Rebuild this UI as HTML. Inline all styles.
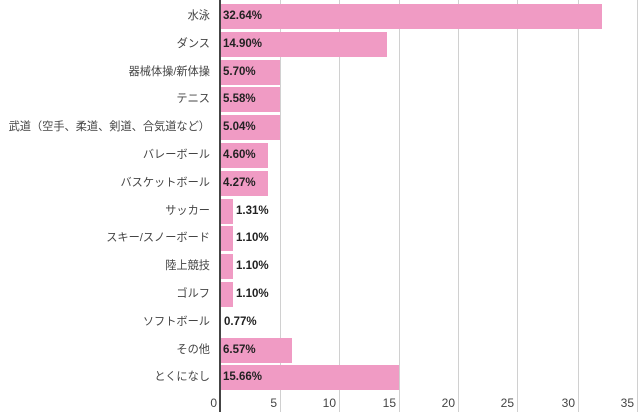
<!DOCTYPE html>
<html><head><meta charset="utf-8"><style>
body{margin:0;background:#fff;width:640px;height:415px;overflow:hidden;font-family:"Liberation Sans","Noto Sans CJK JP",sans-serif}
.g{position:absolute;top:0;height:412px;width:1px;background:#d0d0d0}
.bar{position:absolute;left:220px;height:25px;background:#f09bc4}
.lab{position:absolute;right:430px;font-size:11.2px;color:#444;line-height:25px;white-space:nowrap}
.v{position:absolute;font-size:11.5px;font-weight:bold;color:#222;line-height:25px}
.t{position:absolute;top:396px;font-size:12px;color:#444;width:30px;text-align:right}
</style></head><body>
<div class="g" style="left:280px"></div><div class="g" style="left:339px"></div><div class="g" style="left:399px"></div><div class="g" style="left:458px"></div><div class="g" style="left:517px"></div><div class="g" style="left:578px"></div><div class="g" style="left:637px"></div>
<div id="c"></div>
<div style="position:absolute;left:219px;top:0;width:2px;height:412px;background:#444"></div>
<div class="t" style="left:187px">0</div><div class="t" style="left:247px">5</div><div class="t" style="left:306px">10</div><div class="t" style="left:366px">15</div><div class="t" style="left:425px">20</div><div class="t" style="left:484px">25</div><div class="t" style="left:545px">30</div><div class="t" style="left:604px">35</div>
<script>
var d=[["水泳",602,"32.64%"],["ダンス",387,"14.90%"],["器械体操/新体操",280,"5.70%"],["テニス",280,"5.58%"],["武道（空手、柔道、剣道、合気道など）",280,"5.04%"],["バレーボール",268,"4.60%"],["バスケットボール",268,"4.27%"],["サッカー",233,"1.31%"],["スキー/スノーボード",233,"1.10%"],["陸上競技",233,"1.10%"],["ゴルフ",233,"1.10%"],["ソフトボール",221,"0.77%"],["その他",292,"6.57%"],["とくになし",399,"15.66%"]];
var h="";d.forEach(function(r,i){var y=Math.round(4+i*27.8);
h+='<div class="lab" style="top:'+y+'px">'+r[0]+'</div>';
h+='<div class="bar" style="top:'+y+'px;width:'+(r[1]-220)+'px"></div>';
var x=(r[1]-220>40)?223:(r[1]+3);
h+='<div class="v" style="top:'+y+'px;left:'+x+'px">'+r[2]+'</div>';});
document.getElementById("c").innerHTML=h;
</script>
</body></html>
